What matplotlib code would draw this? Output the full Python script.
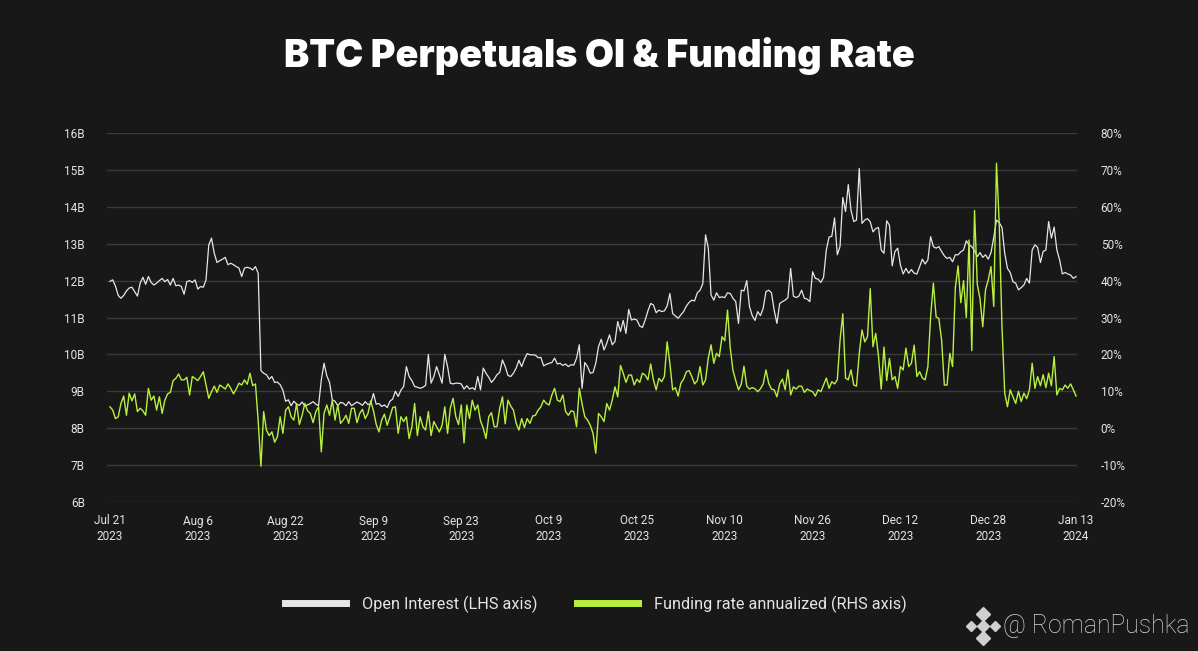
import matplotlib.pyplot as plt
import pandas as pd
from matplotlib.lines import Line2D

# open interest, billions USD, one value every 12h from Jul 21 2023
oi = [
    11.98, 12.02, 11.85, 11.60, 11.52, 11.60, 11.72, 11.80, 11.82, 11.70,
    11.58, 11.93, 12.09, 11.90, 12.11, 11.95, 11.88, 11.93, 12.00, 12.06,
    11.97, 12.03, 11.88, 12.06, 11.86, 11.88, 11.84, 11.63, 11.97, 12.00,
    11.95, 12.02, 11.77, 11.84, 11.82, 12.02, 12.97, 13.15, 12.74, 12.49,
    12.54, 12.58, 12.63, 12.43, 12.47, 12.43, 12.38, 12.34, 12.11, 12.34,
    12.36, 12.34, 12.29, 12.38, 12.20, 9.56, 9.49, 9.45, 9.33, 9.40,
    9.24, 9.25, 9.18, 9.03, 8.73, 8.77, 8.61, 8.73, 8.65, 8.62,
    8.71, 8.60, 8.63, 8.67, 8.72, 8.65, 8.61, 9.31, 9.76, 9.42,
    9.24, 8.77, 8.73, 8.61, 8.70, 8.68, 8.61, 8.72, 8.61, 8.66,
    8.71, 8.67, 8.62, 8.72, 8.64, 8.67, 8.94, 8.65, 8.67, 8.59,
    8.63, 8.56, 8.73, 8.79, 9.00, 8.86, 9.03, 9.13, 9.67, 9.40,
    9.29, 9.13, 9.11, 9.08, 9.11, 9.16, 10.00, 9.22, 9.40, 9.67,
    9.45, 9.22, 10.00, 9.67, 9.22, 9.20, 9.22, 9.22, 9.20, 9.06,
    9.15, 9.06, 9.10, 9.04, 9.40, 9.04, 9.63, 9.49, 9.38, 9.24,
    9.33, 9.45, 9.51, 9.85, 9.67, 9.43, 9.40, 9.49, 9.63, 9.84,
    9.67, 9.87, 10.02, 9.99, 9.99, 9.98, 9.91, 9.92, 9.69, 9.73,
    9.76, 9.78, 9.90, 9.74, 9.76, 9.70, 9.74, 9.67, 9.72, 9.71,
    9.90, 10.26, 9.08, 9.78, 9.67, 9.49, 9.51, 9.76, 10.21, 10.41,
    10.12, 10.30, 10.53, 10.26, 10.35, 10.89, 10.62, 10.92, 10.57, 11.22,
    10.93, 10.96, 10.93, 10.77, 10.73, 10.93, 11.18, 11.38, 11.34, 11.13,
    11.20, 11.16, 11.18, 11.31, 11.65, 11.11, 11.04, 10.98, 11.07, 11.16,
    11.31, 11.41, 11.47, 11.45, 11.67, 11.74, 11.92, 13.24, 12.88, 11.61,
    11.47, 11.67, 11.54, 11.56, 11.54, 11.67, 11.65, 11.52, 11.43, 10.84,
    11.74, 11.72, 12.00, 11.30, 11.05, 10.92, 11.16, 11.05, 11.25, 11.70,
    11.74, 11.67, 11.20, 10.84, 11.38, 11.43, 11.47, 11.54, 12.33, 11.58,
    11.54, 11.58, 11.74, 11.52, 11.50, 11.43, 12.24, 12.06, 12.04, 11.95,
    12.09, 12.83, 13.18, 13.20, 13.70, 12.70, 12.93, 14.25, 13.87, 14.60,
    13.90, 13.60, 13.64, 15.04, 13.55, 13.64, 13.68, 13.59, 13.32, 13.41,
    13.44, 12.83, 12.74, 13.62, 13.50, 12.40, 12.79, 12.88, 12.42, 12.18,
    12.33, 12.20, 12.30, 12.20, 12.18, 12.38, 12.58, 12.45, 12.56, 13.19,
    12.92, 12.88, 12.92, 12.79, 12.67, 12.60, 12.63, 12.51, 12.70, 12.70,
    12.78, 12.83, 13.08, 12.97, 12.92, 12.81, 12.65, 12.76, 12.63, 12.70,
    12.58, 12.76, 13.17, 13.64, 13.57, 13.44, 12.74, 12.33, 12.22, 11.97,
    11.93, 11.75, 11.81, 11.88, 12.06, 11.93, 12.83, 12.97, 12.90, 12.49,
    12.79, 12.83, 13.60, 13.15, 13.45, 12.83, 12.56, 12.18, 12.22, 12.18,
    12.15, 12.06, 12.11,
]

# funding rate annualized, percent, same timestamps
funding = [
    5.8, 4.9, 2.6, 3.1, 6.7, 8.7, 3.5, 9.5, 7.4, 9.3,
    4.5, 5.4, 4.7, 3.5, 10.8, 7.6, 8.7, 4.9, 8.5, 4.0,
    7.6, 9.3, 9.7, 12.9, 13.5, 14.7, 13.1, 13.1, 13.8, 9.0,
    14.0, 13.5, 12.9, 14.0, 15.3, 11.7, 8.1, 9.9, 11.4, 9.7,
    11.7, 11.2, 10.6, 12.0, 10.8, 9.3, 10.6, 12.2, 11.7, 13.1,
    11.9, 14.9, 11.5, 12.0, 2.0, -10.3, 4.5, -0.5, -2.0, -1.0,
    -3.8, -2.3, 3.1, -1.4, 4.9, 5.8, 3.1, 2.2, 6.7, 1.0,
    3.5, 6.7, 4.7, 4.0, 1.5, 4.5, 5.8, -6.4, 4.0, 6.3,
    3.5, 7.6, 2.2, 6.3, 1.3, 2.2, 3.5, 1.3, 5.4, 5.4,
    1.5, 4.0, 5.1, 2.6, 4.0, 7.4, 4.7, 1.1, -1.0, 2.2,
    3.8, 0.8, 3.1, 5.6, 5.8, -1.4, 3.1, 1.8, 3.1, -2.8,
    0.4, 6.7, -2.0, 3.1, 0.4, -0.5, 4.5, -2.0, 1.8, 0.4,
    -1.0, 0.8, 5.8, -1.4, 5.4, 8.1, 3.1, 1.0, 6.3, -4.0,
    6.3, 2.6, 7.6, 4.9, 6.3, 2.0, 0.0, -2.8, 3.1, 4.2,
    0.4, 0.4, 5.4, 8.5, 1.2, 7.6, 6.0, 4.9, 1.3, -0.5,
    2.6, 0.2, 2.6, 1.3, 3.3, 3.5, 4.9, 5.8, 7.6, 6.7,
    6.3, 9.0, 10.8, 7.6, 7.2, 9.0, 4.5, 3.5, 4.7, 4.5,
    0.4, 10.8, 6.6, 3.1, 2.2, 0.8, -1.4, -6.8, 4.0, 3.1,
    1.8, 6.7, 4.9, 7.6, 11.2, 8.5, 17.0, 14.9, 12.4, 14.4,
    14.4, 11.7, 13.3, 12.4, 14.9, 14.4, 13.1, 17.4, 13.1, 10.4,
    13.5, 12.6, 14.0, 23.4, 17.6, 10.4, 11.0, 8.7, 12.2, 13.3,
    15.3, 15.6, 14.0, 12.0, 12.9, 16.7, 11.7, 13.1, 19.0, 22.6,
    17.6, 20.3, 19.4, 24.8, 23.7, 32.0, 21.7, 15.6, 12.9, 10.4,
    11.9, 16.8, 11.4, 10.6, 11.0, 10.7, 9.9, 10.7, 12.0, 15.8,
    12.2, 10.6, 10.4, 8.5, 12.0, 13.3, 10.4, 15.8, 9.0, 11.2,
    10.6, 11.4, 11.4, 9.7, 10.6, 10.2, 9.9, 8.7, 10.4, 9.9,
    11.7, 13.6, 10.8, 12.6, 12.0, 13.1, 23.9, 31.0, 13.6, 13.1,
    15.8, 11.7, 11.4, 20.3, 26.6, 23.4, 24.8, 37.8, 22.1, 25.7,
    19.6, 10.6, 22.0, 12.9, 18.9, 13.1, 14.0, 10.8, 16.7, 15.8,
    21.7, 16.7, 17.6, 22.5, 14.0, 15.3, 13.6, 13.1, 16.7, 30.2,
    39.3, 30.2, 29.7, 23.9, 11.7, 11.7, 20.3, 16.7, 38.0, 44.0,
    34.0, 40.0, 30.0, 51.0, 21.0, 59.0, 39.0, 35.0, 27.5, 37.5,
    40.2, 43.8, 33.0, 71.8, 55.5, 27.5, 9.5, 5.8, 10.4, 8.5,
    6.7, 10.0, 7.2, 9.5, 8.0, 10.4, 17.6, 10.8, 14.0, 11.5,
    14.5, 11.0, 14.9, 11.5, 19.4, 9.0, 10.8, 10.4, 11.7, 10.8,
    12.0, 10.4, 8.7,
]

tick_labels = ['Jul 21\n2023', 'Aug 6\n2023', 'Aug 22\n2023', 'Sep 9\n2023',
               'Sep 23\n2023', 'Oct 9\n2023', 'Oct 25\n2023', 'Nov 10\n2023',
               'Nov 26\n2023', 'Dec 12\n2023', 'Dec 28\n2023', 'Jan 13\n2024']
oi_ticks = [6, 7, 8, 9, 10, 11, 12, 13, 14, 15, 16]
fr_ticks = [-20, -10, 0, 10, 20, 30, 40, 50, 60, 70, 80]

dates = pd.date_range('2023-07-21', periods=len(oi), freq='12h')

bg = '#181818'
txt = '#e4e4e4'
white = '#e6e6e6'
green = '#b8f040'
plt.rcParams['font.family'] = ['Roboto', 'DejaVu Sans']

W, H = 1198, 651
fig = plt.figure(figsize=(W / 100, H / 100), dpi=100, facecolor=bg)
ax = fig.add_axes([107 / W, 1 - 502 / H, 970 / W, 369 / H])
ax.set_facecolor(bg)
ax.plot(dates, oi, color=white, lw=0.9)
ax.set_ylim(6, 16)
ax.set_yticks(oi_ticks)
ax.set_yticklabels([f'{v}B' for v in oi_ticks])
ax.grid(axis='y', color='#3a3a3a', lw=1.0)
ax.set_axisbelow(True)
ax.set_xticks(dates[::32])
ax.set_xticklabels(tick_labels)
ax.set_xlim(dates[0] - pd.Timedelta(hours=13), dates[-1] + pd.Timedelta(hours=4))
ax.tick_params(axis='y', length=0, pad=16, labelsize=8.5, labelcolor=txt)
ax.tick_params(axis='x', length=0, pad=9, labelsize=8.5, labelcolor=txt)
for s in ax.spines.values():
    s.set_visible(False)

ax2 = ax.twinx()
ax2.plot(dates, funding, color=green, lw=1.0)
ax2.set_ylim(-20, 80)
ax2.set_yticks(fr_ticks)
ax2.set_yticklabels([f'{v}%' for v in fr_ticks])
ax2.tick_params(axis='y', length=0, pad=17, labelsize=8.5, labelcolor=txt)
for s in ax2.spines.values():
    s.set_visible(False)

fig.text(0.5, 1 - 56 / H, 'BTC Perpetuals OI & Funding Rate', ha='center', va='center',
         fontsize=27.2, fontweight='black', color='white', family=['Inter', 'DejaVu Sans'])

handles = [Line2D([], [], color=white, lw=5), Line2D([], [], color=green, lw=5)]
leg = fig.legend(handles, ['Open Interest (LHS axis)', 'Funding rate annualized (RHS axis)'],
                 loc='center', bbox_to_anchor=(596 / W, 1 - 604 / H), ncol=2, frameon=False,
                 fontsize=11.7, handlelength=3.75, handletextpad=1.0, columnspacing=2.4)
for t in leg.get_texts():
    t.set_color(txt)

# watermark with a rough diamond logo
lx, ly = 983 / W, 1 - 626 / H
for dx, dy, ms in [(0, 0, 6), (-12, 0, 5), (12, 0, 5), (0, -12, 7), (0, 12, 7)]:
    fig.add_artist(Line2D([lx + dx / W], [ly + dy / H], marker='D', ms=ms,
                          color='#cfcfcf', transform=fig.transFigure))
fig.text(1003 / W, ly, '@ RomanPushka', ha='left', va='center', fontsize=17.8,
         color='#d8d8d8', fontweight='light')

fig.savefig('out.png', dpi=100, facecolor=bg)
